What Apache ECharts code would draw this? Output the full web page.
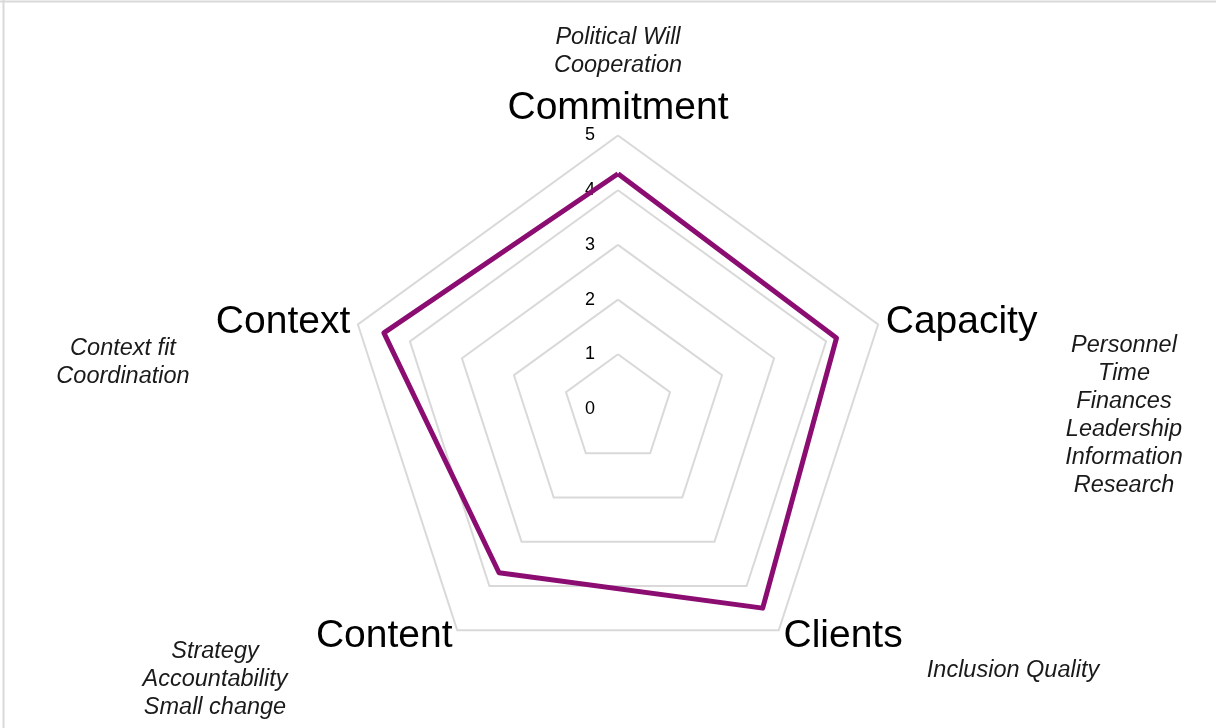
<!DOCTYPE html>
<html>
<head>
<meta charset="utf-8">
<script src="https://cdn.jsdelivr.net/npm/echarts@6/dist/echarts.min.js"></script>
<style>
  html, body { margin: 0; padding: 0; background: #fff; }
  #chart { width: 1216px; height: 728px; }
</style>
</head>
<body>
<div id="chart"></div>
<script>
// dimensions and scores (clockwise from the top)
const dimensions = ["Commitment", "Capacity", "Clients", "Content", "Context"];
const scores = [4.3, 4.2, 4.5, 3.7, 4.5];
const scaleTicks = [0, 1, 2, 3, 4, 5];
// italic notes next to each dimension
const notes = {
  Commitment: ["Political Will", "Cooperation"],
  Capacity: ["Personnel", "Time", "Finances", "Leadership", "Information", "Research"],
  Clients: ["Inclusion Quality"],
  Content: ["Strategy", "Accountability", "Small change"],
  Context: ["Context fit", "Coordination"],
};

const FONT = "'Liberation Sans', Arial, sans-serif";
const cx = 618, cy = 409, R = 273.5;
const maxVal = scaleTicks[scaleTicks.length - 1];

// echarts lays radar indicators out counter-clockwise, so keep the first and reverse the rest
const order = [0].concat(dimensions.map((_, i) => i).slice(1).reverse());
const radarNames = order.map((i) => dimensions[i]);
const radarValues = order.map((i) => scores[i]);

const chart = echarts.init(document.getElementById("chart"));

const noteStyle = {
  fontFamily: FONT,
  fontStyle: "italic",
  fontSize: 23.5,
  lineHeight: 28,
  fill: "#1a1a1a",
  align: "center",
};

// where the note blocks sit (centre x, top y)
const notePos = {
  Commitment: [cx, 23],
  Capacity: [1124, 331],
  Clients: [1013, 656],
  Content: [215, 637],
  Context: [123, 334],
};

const graphics = [
  { type: "line", shape: { x1: 0, y1: 1.5, x2: 1216, y2: 1.5 }, style: { stroke: "#d9d9d9", lineWidth: 2 } },
  { type: "line", shape: { x1: 3.5, y1: 0, x2: 3.5, y2: 728 }, style: { stroke: "#d9d9d9", lineWidth: 2 } },
];
dimensions.forEach((d) => {
  const p = notePos[d];
  graphics.push({
    type: "text",
    x: p[0],
    y: p[1],
    style: Object.assign({ text: notes[d].join("\n"), verticalAlign: "top" }, noteStyle),
  });
});

const option = {
  animation: false,
  backgroundColor: "#fff",
  radar: {
    center: [cx, cy],
    radius: R,
    startAngle: 90,
    shape: "polygon",
    splitNumber: maxVal,
    indicator: radarNames.map((d) => ({ name: d, min: 0, max: maxVal })),
    axisName: {
      color: "#000",
      fontFamily: FONT,
      fontSize: 39,
    },
    nameGap: 8,
    axisLine: { show: false },
    axisTick: { show: false },
    axisLabel: { show: false },
    splitArea: { show: false },
    splitLine: { lineStyle: { color: "#d9d9d9", width: 2 } },
  },
  // vertical value scale along the Commitment spoke, labels only
  grid: { left: cx, top: cy - R, width: 1, height: R },
  xAxis: { type: "value", show: false },
  yAxis: {
    type: "value",
    min: 0,
    max: maxVal,
    interval: 1,
    axisLine: { show: false },
    axisTick: { show: false },
    splitLine: { show: false },
    axisLabel: {
      margin: 23,
      color: "#000",
      fontSize: 18,
      fontFamily: FONT,
      formatter: (v) => (scaleTicks.indexOf(v) >= 0 ? String(v) : ""),
    },
  },
  series: [
    {
      type: "radar",
      symbol: "none",
      lineStyle: { color: "#8c0d72", width: 5 },
      data: [{ value: radarValues, name: "Score" }],
      z: 1,
    },
  ],
  graphic: graphics,
};

chart.setOption(option);
</script>
</body>
</html>
